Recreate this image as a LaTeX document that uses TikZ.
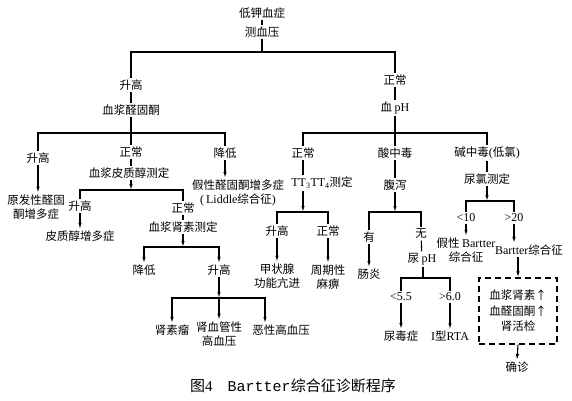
\documentclass[tikz,border=0pt]{standalone}
\usepackage{fontspec}
\setmainfont{Liberation Serif}
\setmonofont{Liberation Mono}
\newfontfamily\cjk{Noto Sans CJK SC}
\usetikzlibrary{arrows.meta}
\begin{document}
\begin{tikzpicture}[x=1pt,y=-1pt,
  lbl/.style={font=\cjk\fontsize{11.5}{14.5}\selectfont, inner sep=1.5pt, align=center},
  ln/.style={line width=1.1pt},
  arr/.style={line width=1.1pt, -{Latex[length=6pt,width=3.4pt]}},
  dbox/.style={draw, line width=1.1pt, dash pattern=on 6pt off 4pt, minimum width=78pt, minimum height=66pt},
  ]
\useasboundingbox[fill=white] (0,0) rectangle (572,400);

% top
\node[lbl] (n1) at (262,13) {低钾血症};
\node[lbl] (n2) at (262,32) {测血压};
\coordinate (b0) at (262,52);
\node[lbl] (a1) at (131,85) {升高};
\node[lbl] (a2) at (131,110) {血浆醛固酮};
\node[lbl] (c1) at (395,80) {正常};
\node[lbl] (c2) at (395,108) {血 {\rmfamily\fontsize{12}{14}\selectfont pH}};
\draw[ln] (n1) -- (n2);
\draw[ln] (n2) -- (b0);
\draw[ln] (a1) |- (b0) -| (c1);
\draw[ln] (a1) -- (a2);
\draw[ln] (c1) -- (c2);

% left branch
\coordinate (bL) at (131,133);
\node[lbl] (a3) at (38,158) {升高};
\node[lbl] (a4) at (131,152) {正常};
\node[lbl] (a5) at (225,153) {降低};
\draw[ln] (a2) -- (bL);
\draw[ln] (a3) |- (bL) -| (a5);
\draw[ln] (bL) -- (a4);
\node[lbl] (a6) at (36,207) {原发性醛固\\酮增多症};
\draw[arr] (a3.south) -- (a3.south |- a6.north);
\node[lbl] (a7) at (129,173) {血浆皮质醇测定};
\draw[ln] (a4.south) -- (a4.south |- a7.north);
\node[lbl] (a8) at (238,193) {假性醛固酮增多症\\{\rmfamily\fontsize{12}{14}\selectfont (\,Liddle}综合征{\rmfamily\fontsize{12}{14}\selectfont )}};
\draw[arr] (a5.south) -- (a5.south |- a8.north);

\coordinate (bC) at (131,190);
\draw[arr] (a7.south -| bC) -- (bC);
\node[lbl] (a9) at (80,206) {升高};
\node[lbl] (a10) at (183,208) {正常};
\draw[ln] (a9) |- (bC) -| (a10);
\node[lbl] (a17) at (80,236) {皮质醇增多症};
\draw[arr] (a9) -- (a17);
\node[lbl] (a11) at (183,227) {血浆肾素测定};
\draw[ln] (a10) -- (a11);

\coordinate (bR) at (183,247);
\draw[arr] (a11) -- (bR);
\node[lbl] (a12) at (144,270) {降低};
\node[lbl] (a13) at (219,270) {升高};
\draw[arr] (bR) -| (a12);
\draw[arr] (bR) -| (a13);

\coordinate (bS) at (219,298);
\draw[arr] (a13) -- (bS);
\node[lbl] (a14) at (172,330) {肾素瘤};
\node[lbl] (a15) at (219,334) {肾血管性\\高血压};
\node[lbl] (a16) at (281,330) {恶性高血压};
\coordinate (x265) at (265,0);
\draw[arr] (bS) -| (a14);
\draw[arr] (bS) -- (a15);
\draw[arr] (bS) -| (a16.north -| x265);

% right branch
\coordinate (bP) at (395,133);
\draw[ln] (c2) -- (bP);
\node[lbl] (d1) at (303,153) {正常};
\node[lbl] (e1) at (395,153) {酸中毒};
\node[lbl] (f1) at (487,153) {碱中毒{\rmfamily\fontsize{12}{14}\selectfont (}低氯{\rmfamily\fontsize{12}{14}\selectfont )}};
\draw[ln] (d1) |- (bP) -| (f1);
\draw[ln] (bP) -- (e1);

\node[lbl] (d2) at (322,183) {{\rmfamily\fontsize{12}{14}\selectfont TT\textsubscript{3}TT\textsubscript{4}}测定};
\draw[ln] (d1.south) -- (d1.south |- d2.north);
\coordinate (bT) at (303,212);
\draw[arr] (d2.south -| bT) -- (bT);
\node[lbl] (d3) at (277,231) {升高};
\node[lbl] (d4) at (328,231) {正常};
\draw[ln] (d3) |- (bT) -| (d4);
\node[lbl] (d5) at (277,276) {甲状腺\\功能亢进};
\node[lbl] (d6) at (328,277) {周期性\\麻痹};
\draw[arr] (d3) -- (d5);
\draw[arr] (d4) -- (d6);

\node[lbl] (e2) at (395,185) {腹泻};
\draw[ln] (e1) -- (e2);
\coordinate (bD) at (395,212);
\draw[arr] (e2) -- (bD);
\node[lbl] (e3) at (369,237) {有};
\node[lbl] (e4) at (421,234) {无};
\draw[ln] (e3) |- (bD) -| (e4);
\node[lbl] (e5) at (369,274) {肠炎};
\draw[arr] (e3) -- (e5);
\node[lbl] (e6) at (422,259) {尿 {\rmfamily\fontsize{12}{14}\selectfont pH}};
\draw[ln] (e4) -- (e6);
\coordinate (bU) at (423,278);
\draw[ln] (e6.south -| bU) -- (bU);
\node[lbl] (e7) at (401,297) {{\rmfamily\fontsize{12}{14}\selectfont <5.5}};
\node[lbl] (e8) at (450,297) {{\rmfamily\fontsize{12}{14}\selectfont >6.0}};
\draw[ln] (e7) |- (bU) -| (e8);
\node[lbl] (e9) at (401,336) {尿毒症};
\node[lbl] (e10) at (450,336) {{\rmfamily\fontsize{12}{14}\selectfont I}型{\rmfamily\fontsize{12}{14}\selectfont RTA}};
\draw[arr] (e7) -- (e9);
\draw[arr] (e8) -- (e10);

\node[lbl] (f2) at (487,179) {尿氯测定};
\draw[ln] (f1) -- (f2);
\coordinate (bF) at (487,201);
\draw[arr] (f2) -- (bF);
\node[lbl] (f3) at (466,218) {{\rmfamily\fontsize{12}{14}\selectfont <10}};
\node[lbl] (f4) at (514,218) {{\rmfamily\fontsize{12}{14}\selectfont >20}};
\draw[ln] (f3) |- (bF) -| (f4);
\node[lbl] (f5) at (466,250) {假性 {\rmfamily\fontsize{12}{14}\selectfont Bartter}\\综合征};
\draw[arr] (f3) -- (f5);
\node[lbl] (f6) at (529,250) {{\rmfamily\fontsize{12}{14}\selectfont Bartter}综合征};
\draw[arr] (f4.south) -- (f4.south |- f6.north);
\node[lbl, dbox, font=\cjk\fontsize{11.5}{15.5}\selectfont] (f7) at (518,311) {血浆肾素↑\\血醛固酮↑\\肾活检};
\draw[arr] (f6.south -| f7.north) -- (f7.north);
\node[lbl] (f8) at (517,367) {确诊};
\draw[arr] (f7.south) -- (f8.north);

% caption
\node[font=\cjk\fontsize{15}{17}\selectfont, inner sep=0pt] (cap) at (293,386) {图{\rmfamily 4}\hspace{1em}{\ttfamily Bartter}综合征诊断程序};
\end{tikzpicture}
\end{document}
